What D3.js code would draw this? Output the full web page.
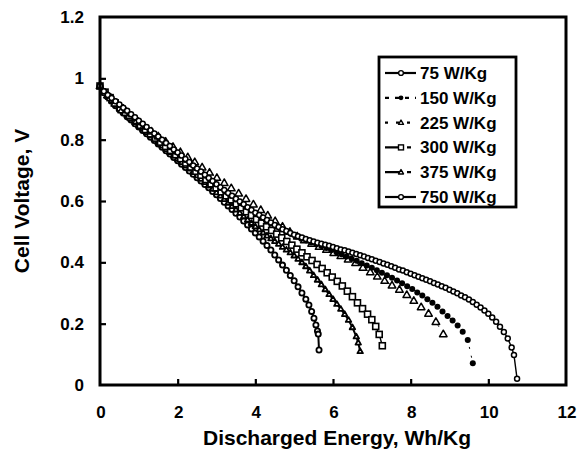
<!DOCTYPE html>
<html><head><meta charset="utf-8">
<script src="https://cdn.jsdelivr.net/npm/d3@7"></script>
<style>
html,body{margin:0;padding:0;background:#fff;}
text{font-family:"Liberation Sans",Arial,sans-serif;font-weight:bold;fill:#000;}
</style></head>
<body><svg id="chart" width="581" height="452"></svg>
<script>
// Series data: [Discharged energy (Wh/Kg), Cell voltage (V)]
const s75 = [[0,.975],[0.1,.958],[0.2,.946],[0.3,.936],[0.4,.925],[0.5,.915],[0.6,.904],[0.7,.894],[0.8,.883],[0.9,.873],[1.0,.862],[1.1,.852],[1.2,.841],[1.3,.831],[1.4,.820],[1.5,.810],[1.6,.800],[1.7,.789],[1.8,.779],[1.9,.768],[2.0,.758],[2.1,.748],[2.2,.737],[2.3,.727],[2.4,.716],[2.5,.706],[2.6,.696],[2.7,.686],[2.8,.675],[2.9,.665],[3.0,.655],[3.1,.645],[3.2,.636],[3.3,.626],[3.4,.617],[3.5,.607],[3.6,.598],[3.7,.589],[3.8,.580],[3.9,.571],[4.0,.562],[4.1,.554],[4.2,.546],[4.3,.538],[4.4,.530],[4.5,.522],[4.6,.515],[4.7,.508],[4.8,.502],[4.9,.496],[5.0,.490],[5.1,.485],[5.2,.481],[5.3,.476],[5.4,.472],[5.5,.468],[5.6,.464],[5.7,.461],[5.8,.457],[5.9,.454],[6.0,.450],[6.1,.446],[6.2,.442],[6.3,.439],[6.4,.435],[6.5,.431],[6.6,.427],[6.7,.423],[6.8,.419],[6.9,.414],[7.0,.410],[7.1,.405],[7.2,.401],[7.3,.396],[7.4,.392],[7.5,.387],[7.6,.382],[7.7,.377],[7.8,.373],[7.9,.368],[8.0,.363],[8.1,.358],[8.2,.353],[8.3,.348],[8.4,.343],[8.5,.338],[8.6,.333],[8.7,.328],[8.8,.322],[8.9,.317],[9.0,.311],[9.1,.305],[9.2,.299],[9.3,.292],[9.4,.286],[9.5,.279],[9.6,.271],[9.7,.262],[9.8,.253],[9.9,.243],[10.0,.232],[10.1,.220],[10.2,.206],[10.3,.190],[10.4,.173],[10.5,.152],[10.6,.122],[10.66,.098],[10.74,.02]];
const s150 = [[0,.975],[0.11,.958],[0.24,.943],[0.37,.927],[0.50,.912],[0.63,.898],[0.76,.884],[0.89,.870],[1.02,.856],[1.15,.842],[1.28,.829],[1.41,.815],[1.54,.802],[1.67,.788],[1.80,.775],[1.93,.761],[2.06,.748],[2.19,.734],[2.32,.721],[2.45,.708],[2.58,.695],[2.71,.682],[2.84,.668],[2.97,.655],[3.10,.642],[3.23,.630],[3.36,.617],[3.49,.605],[3.62,.593],[3.75,.581],[3.88,.570],[4.01,.558],[4.14,.548],[4.27,.537],[4.40,.527],[4.53,.517],[4.66,.508],[4.79,.500],[4.92,.492],[5.05,.484],[5.18,.477],[5.31,.471],[5.44,.465],[5.57,.459],[5.70,.453],[5.83,.447],[5.96,.440],[6.09,.433],[6.22,.426],[6.35,.419],[6.48,.412],[6.61,.405],[6.74,.397],[6.87,.390],[7.00,.382],[7.13,.374],[7.26,.366],[7.39,.358],[7.52,.350],[7.65,.341],[7.78,.332],[7.91,.322],[8.04,.313],[8.17,.302],[8.30,.292],[8.43,.280],[8.56,.268],[8.69,.255],[8.82,.240],[8.95,.225],[9.08,.210],[9.21,.194],[9.34,.174],[9.47,.147],[9.60,.071]];
const s225 = [[0,.975],[0.19,.945],[0.38,.918],[0.56,.896],[0.75,.878],[0.94,.861],[1.13,.844],[1.32,.827],[1.50,.811],[1.69,.794],[1.88,.777],[2.07,.760],[2.26,.743],[2.44,.727],[2.63,.710],[2.82,.693],[3.01,.676],[3.20,.659],[3.38,.642],[3.57,.625],[3.76,.607],[3.95,.589],[4.14,.571],[4.32,.553],[4.51,.535],[4.70,.517],[4.89,.500],[5.08,.485],[5.26,.472],[5.45,.461],[5.64,.451],[5.83,.441],[6.02,.431],[6.20,.421],[6.39,.410],[6.58,.398],[6.77,.383],[6.96,.368],[7.14,.354],[7.33,.340],[7.52,.325],[7.71,.311],[7.90,.294],[8.08,.275],[8.27,.254],[8.46,.233],[8.65,.206],[8.84,.166]];
const s300 = [[0,.975],[0.13,.955],[0.26,.937],[0.39,.920],[0.52,.904],[0.65,.889],[0.78,.874],[0.91,.861],[1.04,.847],[1.17,.833],[1.30,.819],[1.43,.805],[1.56,.792],[1.69,.778],[1.82,.765],[1.95,.751],[2.08,.738],[2.21,.724],[2.34,.711],[2.47,.697],[2.60,.684],[2.73,.670],[2.86,.656],[2.99,.643],[3.12,.630],[3.25,.617],[3.38,.604],[3.51,.591],[3.64,.578],[3.77,.565],[3.90,.553],[4.03,.540],[4.16,.528],[4.29,.516],[4.42,.504],[4.55,.492],[4.68,.480],[4.81,.468],[4.94,.456],[5.07,.443],[5.20,.431],[5.33,.418],[5.46,.406],[5.59,.393],[5.72,.380],[5.85,.366],[5.98,.352],[6.11,.338],[6.24,.323],[6.37,.306],[6.50,.288],[6.63,.268],[6.76,.249],[6.89,.231],[7.00,.213],[7.10,.191],[7.19,.165],[7.27,.128]];
const s375 = [[0,.975],[0.1,.956],[0.2,.941],[0.3,.927],[0.4,.914],[0.5,.902],[0.6,.891],[0.7,.880],[0.8,.868],[0.9,.857],[1.0,.846],[1.1,.835],[1.2,.824],[1.3,.813],[1.4,.802],[1.5,.791],[1.6,.780],[1.7,.769],[1.8,.759],[1.9,.748],[2.0,.737],[2.1,.726],[2.2,.715],[2.3,.705],[2.4,.694],[2.5,.683],[2.6,.672],[2.7,.661],[2.8,.650],[2.9,.639],[3.0,.628],[3.1,.617],[3.2,.606],[3.3,.594],[3.4,.583],[3.5,.572],[3.6,.561],[3.7,.550],[3.8,.539],[3.9,.528],[4.0,.517],[4.1,.507],[4.2,.497],[4.3,.487],[4.4,.478],[4.5,.469],[4.6,.460],[4.7,.450],[4.8,.441],[4.9,.432],[5.0,.422],[5.1,.411],[5.2,.400],[5.3,.387],[5.4,.373],[5.5,.358],[5.6,.343],[5.7,.328],[5.8,.312],[5.9,.296],[6.0,.280],[6.1,.264],[6.2,.248],[6.3,.231],[6.4,.212],[6.5,.188],[6.6,.158],[6.65,.138],[6.7,.110]];
const s750 = [[0,.975],[0.1,.955],[0.2,.939],[0.3,.925],[0.4,.911],[0.5,.898],[0.6,.887],[0.7,.875],[0.8,.864],[0.9,.852],[1.0,.841],[1.1,.830],[1.2,.819],[1.3,.808],[1.4,.797],[1.5,.786],[1.6,.775],[1.7,.764],[1.8,.753],[1.9,.742],[2.0,.731],[2.1,.720],[2.2,.709],[2.3,.698],[2.4,.687],[2.5,.676],[2.6,.665],[2.7,.654],[2.8,.643],[2.9,.631],[3.0,.620],[3.1,.608],[3.2,.596],[3.3,.584],[3.4,.572],[3.5,.560],[3.6,.548],[3.7,.535],[3.8,.522],[3.9,.509],[4.0,.496],[4.1,.483],[4.2,.469],[4.3,.455],[4.4,.440],[4.5,.424],[4.6,.408],[4.7,.391],[4.8,.374],[4.9,.357],[5.0,.340],[5.1,.320],[5.2,.300],[5.3,.280],[5.38,.261],[5.45,.240],[5.51,.218],[5.56,.196],[5.6,.176],[5.62,.166],[5.64,.114]];

const seriesNames = ["75 W/Kg","150 W/Kg","225 W/Kg","300 W/Kg","375 W/Kg","750 W/Kg"];
const xTicks = [0,2,4,6,8,10,12];
const yTicks = [0,0.2,0.4,0.6,0.8,1,1.2];
const xTitle = "Discharged Energy, Wh/Kg";
const yTitle = "Cell Voltage, V";

const svg = d3.select("#chart");
const x = d3.scaleLinear().domain([0,12]).range([100,566]);
const y = d3.scaleLinear().domain([0,1.2]).range([385,17]);

const styles = {
  "75 W/Kg":  {data:s75,  sym:"circle",   size:2.5, fill:"#fff", dash:null,  lw:1.4, sw:1.5},
  "150 W/Kg": {data:s150, sym:"dot",      size:3.0, fill:"#000", dash:"2,7", lw:1,   sw:0},
  "225 W/Kg": {data:s225, sym:"triangle", size:7.5, fill:"#fff", dash:"3,10",lw:0.8, sw:1.5},
  "300 W/Kg": {data:s300, sym:"square",   size:6,   fill:"#fff", dash:null,  lw:1.4, sw:1.6},
  "375 W/Kg": {data:s375, sym:"triangle", size:5.5, fill:"#fff", dash:null,  lw:2,   sw:1.8},
  "750 W/Kg": {data:s750, sym:"circle",   size:2.6, fill:"#fff", dash:null,  lw:2,   sw:1.8}
};

function drawMarker(g, sym, size, fill, cx, cy, sw){
  if (sym==="circle") {
    g.append("circle").attr("cx",cx).attr("cy",cy).attr("r",size)
     .attr("fill",fill).attr("stroke","#000").attr("stroke-width",sw);
  } else if (sym==="dot") {
    g.append("circle").attr("cx",cx).attr("cy",cy).attr("r",size).attr("fill","#000");
  } else if (sym==="square") {
    g.append("rect").attr("x",cx-size/2).attr("y",cy-size/2).attr("width",size).attr("height",size)
     .attr("fill",fill).attr("stroke","#000").attr("stroke-width",sw);
  } else if (sym==="triangle") {
    const h = size*0.87;
    g.append("path").attr("d",`M${cx},${cy-h*0.6}L${cx+size/2},${cy+h*0.4}L${cx-size/2},${cy+h*0.4}Z`)
     .attr("fill",fill).attr("stroke","#000").attr("stroke-width",sw).attr("stroke-linejoin","round");
  }
}

const line = d3.line().x(d=>x(d[0])).y(d=>y(d[1]));
const plot = svg.append("g");
["750 W/Kg","375 W/Kg","300 W/Kg","225 W/Kg","150 W/Kg","75 W/Kg"].forEach(name=>{
  const st = styles[name];
  const g = plot.append("g");
  g.append("path").datum(st.data).attr("d",line).attr("fill","none")
    .attr("stroke","#000").attr("stroke-width",st.lw)
    .attr("stroke-dasharray",st.dash);
  st.data.forEach(d=>drawMarker(g, st.sym, st.size, st.fill, x(d[0]), y(d[1]), st.sw));
});

// Axes
const xAxis = d3.axisBottom(x).tickValues(xTicks.slice(1,-1)).tickSize(-6).tickFormat("");
const gx = svg.append("g").attr("transform","translate(0,385)").call(xAxis);
gx.select(".domain").remove();
gx.selectAll(".tick line").attr("stroke","#000").attr("stroke-width",2.2);
const yAxis = d3.axisLeft(y).tickValues(yTicks.slice(1,-1)).tickSize(-6).tickFormat("");
const gy = svg.append("g").attr("transform","translate(100,0)").call(yAxis);
gy.select(".domain").remove();
gy.selectAll(".tick line").attr("stroke","#000").attr("stroke-width",2.2);

// frame
svg.append("rect").attr("x",x(0)).attr("y",y(1.2)).attr("width",x(12)-x(0)).attr("height",y(0)-y(1.2))
  .attr("fill","none").attr("stroke","#000").attr("stroke-width",3);

// tick labels
svg.append("g").selectAll("text").data(xTicks).join("text")
  .attr("x",d=>x(d)+1).attr("y",418).attr("text-anchor","middle")
  .style("font-size","17px").text(d=>d);
svg.append("g").selectAll("text").data(yTicks).join("text")
  .attr("x",84).attr("y",d=>y(d)+6).attr("text-anchor","end")
  .style("font-size","17px").text(d=>d);

// titles
svg.append("text").attr("x",337).attr("y",445).attr("text-anchor","middle")
  .style("font-size","21px").text(xTitle);
svg.append("text").attr("transform","translate(29,201) rotate(-90)").attr("text-anchor","middle")
  .style("font-size","21px").text(yTitle);

// legend
const lg = svg.append("g");
lg.append("rect").attr("x",379).attr("y",57).attr("width",137).attr("height",150)
  .attr("fill","#fff").attr("stroke","#000").attr("stroke-width",2.8);
const legendDash = {"75 W/Kg":null,"150 W/Kg":"4,6","225 W/Kg":"3,8","300 W/Kg":"18,4,4","375 W/Kg":"18,4,4","750 W/Kg":null};
seriesNames.forEach((name,i)=>{
  const st = styles[name];
  const cy = 73 + i*24.8;
  const row = lg.append("g");
  row.append("line").attr("x1",385).attr("x2",416).attr("y1",cy).attr("y2",cy)
    .attr("stroke","#000").attr("stroke-width",2.2).attr("stroke-dasharray",legendDash[name]);
  drawMarker(row, st.sym, st.sym==="triangle"?5:(st.sym==="square"?5:2.4), st.fill, 401, cy, 1.4);
  row.append("text").attr("x",420).attr("y",cy+6).style("font-size","17px").text(name);
});
</script></body></html>
